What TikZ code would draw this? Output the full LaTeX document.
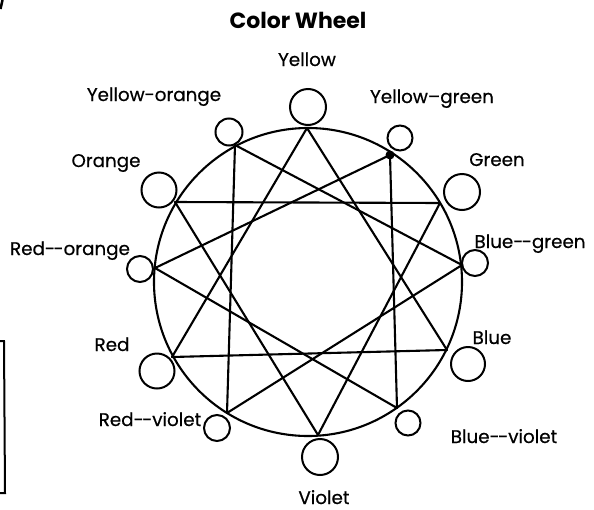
\documentclass[tikz,border=0pt]{standalone}
\usepackage{fontspec}
\setmainfont{Poppins}
\newfontfamily\lblfont{Poppins}[BoldFont=Poppins, BoldFeatures={FakeBold=0.6}]
\begin{document}
\begin{tikzpicture}[x=1pt,y=-1pt,
  lbl/.style={font=\lblfont\bfseries\fontsize{18.3}{18.3}\selectfont, anchor=base, inner sep=0pt},
  ttl/.style={font=\bfseries\fontsize{22}{22}\selectfont, anchor=base, inner sep=0pt},
  swatch/.style={circle, draw, line width=2pt, inner sep=0pt},
  chord/.style={line width=2.1pt, line join=round},
  rim/.style={line width=2.1pt}]
\useasboundingbox (0,0) rectangle (594,509);
% wheel
\coordinate (C) at (308,282);
\draw[rim] (C) circle[radius=154];
% points on the rim
\coordinate (pY)  at (307,128);
\coordinate (pYG) at (390,155);
\coordinate (pG)  at (440,203);
\coordinate (pBG) at (462,265);
\coordinate (pB)  at (447,350);
\coordinate (pBV) at (397,408);
\coordinate (pV)  at (318,435);
\coordinate (pRV) at (227,413);
\coordinate (pR)  at (172,357);
\coordinate (pRO) at (155,268);
\coordinate (pO)  at (175,202);
\coordinate (pYO) at (235,145);
% triangles
\draw[chord] (pY) -- (pR) -- (pB) -- cycle;
\draw[chord] (pO) -- (pG) -- (pV) -- cycle;
\draw[chord] (pYO) -- (pBG) -- (pRV) -- cycle;
\draw[chord] (pYG) -- (pRO) -- (pBV) -- cycle;
\fill (pYG) circle[radius=4.5];
% swatches
\node[swatch, minimum size=36] (sY)  at (308,107) {};
\node[swatch, minimum size=25] (sYG) at (400,138) {};
\node[swatch, minimum size=36] (sG)  at (462,192) {};
\node[swatch, minimum size=26] (sBG) at (475,263) {};
\node[swatch, minimum size=34] (sB)  at (468,364) {};
\node[swatch, minimum size=25] (sBV) at (408,423) {};
\node[swatch, minimum size=36] (sV)  at (320,457) {};
\node[swatch, minimum size=26] (sRV) at (217,428) {};
\node[swatch, minimum size=35] (sR)  at (157,371) {};
\node[swatch, minimum size=26] (sRO) at (140,269) {};
\node[swatch, minimum size=35] (sO)  at (159,190) {};
\node[swatch, minimum size=27] (sYO) at (229,132) {};
% labels
\node[ttl] (title) at (298,28) {Color Wheel};
\node[lbl] (lY)  at (307,66)  {Yellow};
\node[lbl] (lYO) at (154,101) {Yellow-orange};
\node[lbl] (lYG) at (432,103) {Yellow–green};
\node[lbl] (lO)  at (106,167) {Orange};
\node[lbl] (lG)  at (497,166) {Green};
\node[lbl] (lRO) at (70,255)  {Red-\kern-1.5pt-orange};
\node[lbl] (lBG) at (530,248) {Blue-\kern-1.5pt-green};
\node[lbl] (lR)  at (112,351) {Red};
\node[lbl] (lB)  at (492,344) {Blue};
\node[lbl] (lRV) at (150,426) {Red-\kern-1.5pt-violet};
\node[lbl] (lBV) at (504,443) {Blue-\kern-1.5pt-violet};
\node[lbl] (lV)  at (324,504) {Violet};
% scan edge marks
\draw[line width=2pt] (0,341) -- (4,341) -- (5,493) -- (0,493);
\draw[line width=2.5pt] (2.5,0) -- (0.5,9);
\end{tikzpicture}
\end{document}
